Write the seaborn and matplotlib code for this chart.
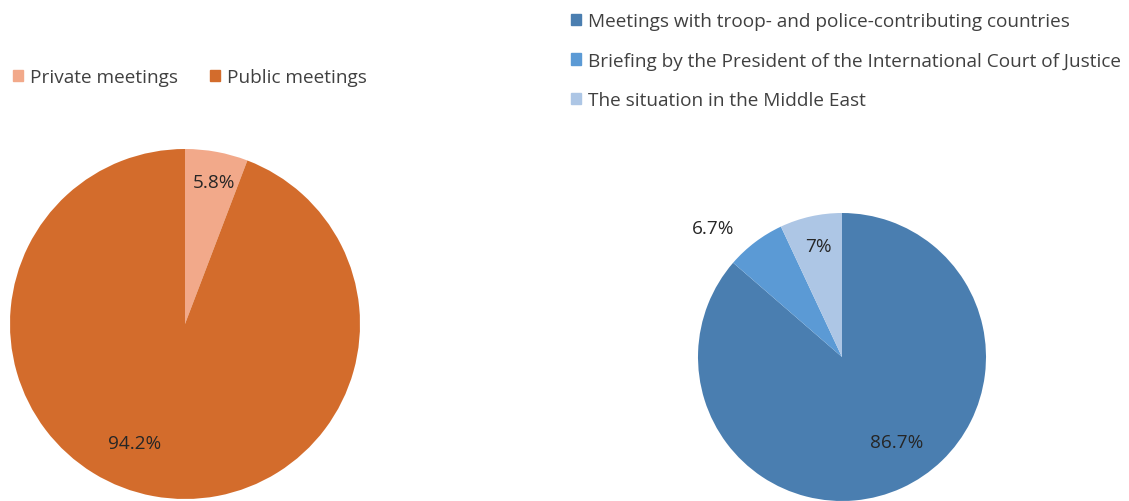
import matplotlib
matplotlib.use("Agg")
import matplotlib.pyplot as plt
import numpy as np
import seaborn as sns
from matplotlib.patches import Patch

# data
left_labels = ["Private meetings", "Public meetings"]
left_values = [5.8, 94.2]
left_colors = ["#F2A98A", "#D36C2C"]

right_labels = ["Meetings with troop- and police-contributing countries",
                "Briefing by the President of the International Court of Justice",
                "The situation in the Middle East"]
right_values = [86.7, 6.7, 7]
right_pct = ["86.7%", "6.7%", "7%"]
right_colors = ["#4A7EB0", "#5B9AD5", "#ADC6E5"]

sns.set_theme(style="white")
plt.rcParams['font.family'] = ['Open Sans', 'DejaVu Sans']

W, H = 1129, 502
fig = plt.figure(figsize=(W / 100, H / 100), dpi=100)
FS = 13.7


def pix_axes(cx, cy, r):
    return fig.add_axes([(cx - r) / W, 1 - (cy + r) / H, 2 * r / W, 2 * r / H])


def polar(ax_txt, ang, dist):
    a = np.deg2rad(ang)
    ax_txt.set_position((dist * np.cos(a), dist * np.sin(a)))


# left pie
ax1 = pix_axes(185, 325, 175)
w1, _, t1 = ax1.pie(left_values, colors=left_colors, startangle=90, counterclock=False,
                    autopct=lambda p: f"{p:.1f}%", pctdistance=0.82,
                    textprops=dict(fontsize=FS, color="#262626"),
                    wedgeprops=dict(linewidth=0))
polar(t1[0], 78.5, 0.83)
polar(t1[1], -113, 0.74)
ax1.set_xlim(-1, 1)
ax1.set_ylim(-1, 1)
ax1.set_aspect("equal")
ax1.axis("off")

# right pie
ax2 = pix_axes(842, 358, 144)
w2, _ = ax2.pie(right_values, colors=right_colors, startangle=90, counterclock=False,
                wedgeprops=dict(linewidth=0))
ang_r = [-57, 135, 102]
dist_r = [0.70, 1.27, 0.79]
for txt, a, d in zip(right_pct, ang_r, dist_r):
    r = np.deg2rad(a)
    ax2.text(d * np.cos(r), d * np.sin(r), txt, ha="center", va="center",
             fontsize=FS, color="#262626")
ax2.set_xlim(-1, 1)
ax2.set_ylim(-1, 1)
ax2.set_aspect("equal")
ax2.axis("off")

# legends
h1 = [Patch(color=c, label=l) for c, l in zip(left_colors, left_labels)]
fig.legend(handles=h1, loc="center left", bbox_to_anchor=(13 / W, 1 - 78 / H), ncol=2,
           frameon=False, fontsize=FS, handlelength=0.55, handleheight=0.55,
           handletextpad=0.35, columnspacing=1.65, labelcolor="#404040",
           borderpad=0, borderaxespad=0)

h2 = [Patch(color=c, label=l) for c, l in zip(right_colors, right_labels)]
fig.legend(handles=h2, loc="upper left", bbox_to_anchor=(571 / W, 1 - 13 / H), ncol=1,
           frameon=False, fontsize=FS, handlelength=0.55, handleheight=0.55,
           handletextpad=0.35, labelspacing=1.13, labelcolor="#404040",
           borderpad=0, borderaxespad=0)

fig.savefig("out.png", dpi=100)
